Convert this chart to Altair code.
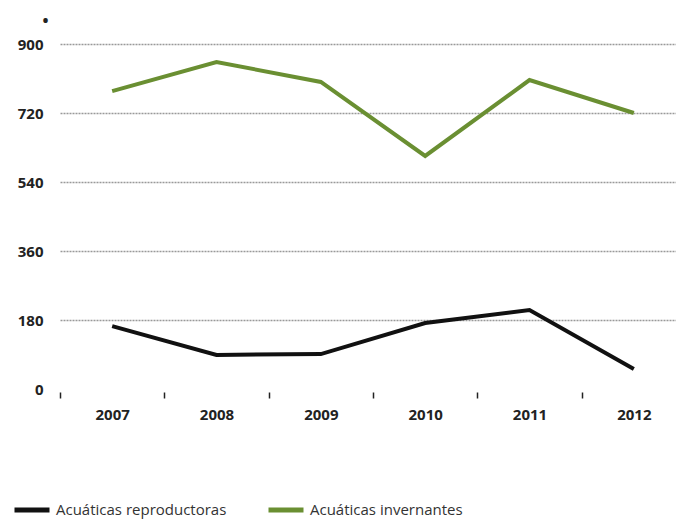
import altair as alt
import pandas as pd

years = ["2007", "2008", "2009", "2010", "2011", "2012"]
reproductoras = [164, 89, 91, 172, 206, 52]
invernantes = [777, 853, 801, 608, 806, 720]
series_names = ["Acuáticas reproductoras", "Acuáticas invernantes"]
y_ticks = [0, 180, 360, 540, 720, 900]

rows = []
for y, v in zip(years, reproductoras):
    rows.append({"year": y, "value": v, "serie": series_names[0]})
for y, v in zip(years, invernantes):
    rows.append({"year": y, "value": v, "serie": series_names[1]})
df = pd.DataFrame(rows)

FONT = "Open Sans"

chart = alt.Chart(df).mark_line(strokeWidth=4, strokeCap="butt").encode(
    x=alt.X("year:O", sort=years,
            scale=alt.Scale(paddingInner=0, paddingOuter=0, range=[0, 626]),
            axis=alt.Axis(title=None, domain=False, tickBand="extent",
                          tickSize=6, tickWidth=1.5, tickColor="#222", offset=3,
                          labelAngle=0, labelPadding=9, labelFont=FONT,
                          labelFontSize=15, labelFontWeight="bold",
                          labelColor="#222", grid=False)),
    y=alt.Y("value:Q", scale=alt.Scale(domain=[0, 900], nice=False),
            axis=alt.Axis(values=y_ticks, title="•", titleAngle=0,
                          titleX=-15, titleY=-24, titleFontSize=16,
                          titleBaseline="middle", titleAlign="center",
                          titleColor="#222", titleFont=FONT,
                          domain=False, ticks=False, labelPadding=17,
                          labelFont=FONT, labelFontSize=15,
                          labelFontWeight="bold", labelColor="#222",
                          grid=True, gridColor="#999", gridWidth=1.5,
                          gridDash=[2, 1],
                          gridOpacity={"condition": {"test": "datum.value === 0", "value": 0}, "value": 1})),
    color=alt.Color("serie:N", sort=series_names,
                    scale=alt.Scale(domain=series_names, range=["#111111", "#6a8f32"]),
                    legend=alt.Legend(title=None, orient="none", legendX=-48,
                                      legendY=446, direction="horizontal",
                                      symbolType="stroke", symbolStrokeWidth=5,
                                      symbolSize=1225, labelFont=FONT,
                                      labelFontSize=15, labelColor="#333",
                                      labelOffset=4, columnPadding=31,
                                      labelLimit=300)),
).properties(
    width=616, height=345,
    autosize=alt.AutoSizeParams(type="none"),
    padding={"left": 52, "top": 36, "right": 0, "bottom": 132},
).configure_view(stroke=None)

chart.save("out.html", embed_options={"renderer": "svg", "actions": False})
